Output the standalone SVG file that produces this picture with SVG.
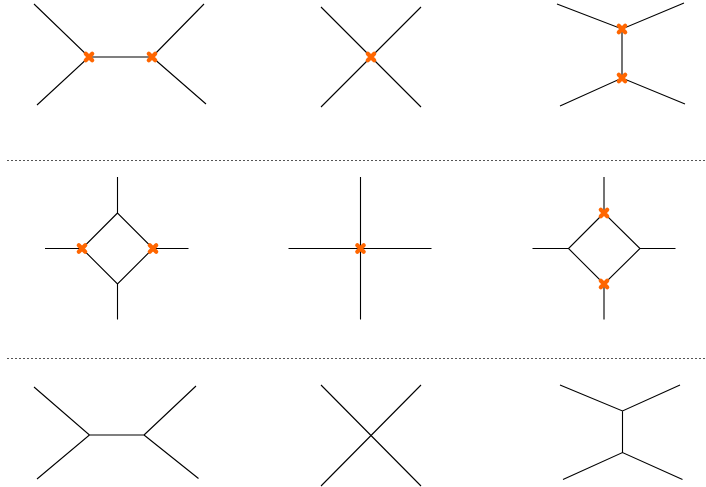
<svg xmlns="http://www.w3.org/2000/svg" width="706" height="487" viewBox="0 0 706 487">
<defs>
<style>
.e{stroke:#000;stroke-width:1.1;fill:none;stroke-linecap:butt}
.sep{stroke:#555;stroke-width:1;stroke-dasharray:2,2;fill:none}
.x{stroke:#ff6600;stroke-width:4.2;stroke-linecap:round;fill:none}
</style>
<path id="cross" class="x" d="M-3.2,-3.2L3.2,3.2M-3.2,3.2L3.2,-3.2"/>
</defs>
<rect width="706" height="487" fill="#fff"/>
<g id="separators">
<line class="sep" x1="7" y1="160.5" x2="706" y2="160.5"/>
<line class="sep" x1="7" y1="358.5" x2="706" y2="358.5"/>
</g>
<g id="connectors">
<path class="e" d="M34,4L89,57L37,105M89,57H152M152,57L204,4M152,57L206,104"/>
<path class="e" d="M321,7L421,107M421,7L321,107"/>
<path class="e" d="M557,4L622,29L684,3M622,29V78M560,106L622,78L685,104"/>
<path class="e" d="M117.5,177V213M117.5,284V319.5M45,248.5H82M153,248.5H188.5M117.5,213L82,248.5L117.5,284L153,248.5Z"/>
<path class="e" d="M360.5,177V319.5M288.5,248.5H431.5"/>
<path class="e" d="M604,177V213M604,284V319.5M532.5,248.5H568.5M640,248.5H675.5M604,213L568.5,248.5L604,284L640,248.5Z"/>
<path class="e" d="M34,387L89.5,435L37,479M89.5,435H144M144,435L196,386M144,435L198.5,478.5"/>
<path class="e" d="M321,385L421,486M421,385L321,486"/>
<path class="e" d="M560,385L622.5,411L680,385M622.5,411V452.5M563,479.5L622.5,452.5L682.5,479.5"/>
</g>
<g id="node-r1a1"><use href="#cross" x="89" y="57"/></g>
<g id="node-r1a2"><use href="#cross" x="152" y="57"/></g>
<g id="node-r1b"><use href="#cross" x="371" y="57"/></g>
<g id="node-r1c1"><use href="#cross" x="622" y="29"/></g>
<g id="node-r1c2"><use href="#cross" x="622" y="78"/></g>
<g id="node-r2a1"><use href="#cross" x="82" y="248.5"/></g>
<g id="node-r2a2"><use href="#cross" x="153" y="248.5"/></g>
<g id="node-r2b"><use href="#cross" x="360.5" y="248.5"/></g>
<g id="node-r2c1"><use href="#cross" x="604" y="213"/></g>
<g id="node-r2c2"><use href="#cross" x="604" y="284"/></g>
</svg>
